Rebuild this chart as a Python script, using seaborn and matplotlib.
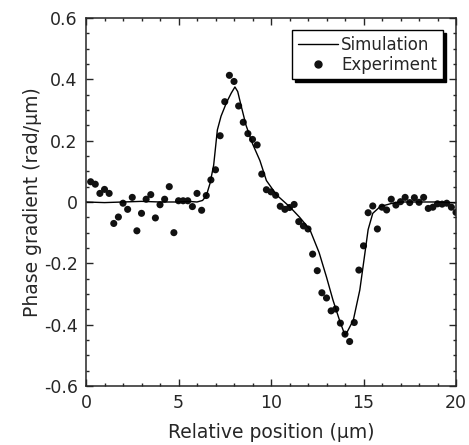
import numpy as np
import pandas as pd
import matplotlib
matplotlib.use('Agg')
import matplotlib.pyplot as plt
from matplotlib.lines import Line2D
from matplotlib.ticker import MultipleLocator
import seaborn as sns

# experiment: measured phase gradient every 0.25 um
exp_x = [0.25 * k for k in range(1, 81)]
exp_y = [0.066, 0.058, 0.028, 0.041, 0.028, -0.070, -0.049, -0.004, -0.024, 0.015,
         -0.094, -0.037, 0.009, 0.024, -0.052, -0.009, 0.009, 0.050, -0.100, 0.004,
         0.004, 0.004, -0.015, 0.028, -0.027, 0.021, 0.072, 0.105, 0.216, 0.327,
         0.413, 0.393, 0.313, 0.260, 0.223, 0.204, 0.186, 0.091, 0.040, 0.033,
         0.022, -0.014, -0.024, -0.018, -0.008, -0.064, -0.078, -0.088, -0.170, -0.224,
         -0.296, -0.313, -0.355, -0.349, -0.395, -0.431, -0.455, -0.393, -0.222, -0.143,
         -0.035, -0.013, -0.088, -0.017, -0.026, 0.009, -0.010, 0.001, 0.015, -0.002,
         0.014, -0.001, 0.015, -0.021, -0.017, -0.006, -0.007, -0.004, -0.017, -0.034]

# simulation curve
sim_x = [0, 1, 2, 3, 4, 5, 5.5, 6.0, 6.3, 6.5, 6.7, 6.9, 7.1, 7.3, 7.6, 7.85, 8.05,
         8.2, 8.4, 8.65, 9.0, 9.4, 9.75, 10.3, 11.0, 11.55, 12.1, 12.6, 13.0, 13.35,
         13.7, 14.0, 14.15, 14.45, 14.8, 15.05, 15.25, 15.5, 15.9, 16.5, 17, 18, 19, 20]
sim_y = [0.0, -0.002, 0.0, 0.002, 0.0, 0.0, 0.002, 0.0, 0.005, 0.02, 0.06, 0.12, 0.235,
         0.28, 0.325, 0.355, 0.375, 0.36, 0.31, 0.25, 0.19, 0.135, 0.07, 0.023, -0.015,
         -0.05, -0.09, -0.165, -0.245, -0.32, -0.385, -0.435, -0.42, -0.385, -0.287,
         -0.178, -0.09, -0.037, -0.015, -0.005, 0.0, 0.0, 0.0, -0.003]

x_ticks = [0, 5, 10, 15, 20]
y_ticks = [-0.6, -0.4, -0.2, 0, 0.2, 0.4, 0.6]
y_ticklabels = ['-0.6', '-0.4', '-0.2', '0', '0.2', '0.4', '0.6']

df_exp = pd.DataFrame({'x': exp_x, 'y': exp_y})
df_sim = pd.DataFrame({'x': sim_x, 'y': sim_y})

sns.set_style('ticks')
plt.rcParams['font.family'] = ['DejaVu Sans']

fig = plt.figure(figsize=(4.69, 4.45), dpi=100)
ax = fig.add_axes([0.1834, 0.1326, 0.7889, 0.8270])

sns.lineplot(data=df_sim, x='x', y='y', color='black', linewidth=1.0, ax=ax)
sns.scatterplot(data=df_exp, x='x', y='y', color='#111111', s=26, edgecolor='none', ax=ax)

ax.set_xticks(x_ticks)
ax.set_xticklabels([str(t) for t in x_ticks])
ax.set_yticks(y_ticks)
ax.set_yticklabels(y_ticklabels)
ax.xaxis.set_minor_locator(MultipleLocator(1))
ax.yaxis.set_minor_locator(MultipleLocator(0.05))
ax.set_xlim(0, 20)
ax.set_ylim(-0.6, 0.6)

ax.tick_params(which='both', direction='in', top=True, right=True, width=1.0)
ax.tick_params(which='major', length=5, labelsize=12.5, pad=6)
ax.tick_params(which='minor', length=2.5)
for s in ax.spines.values():
    s.set_linewidth(1.1)
    s.set_visible(True)

ax.set_xlabel('Relative position (\u03bcm)', fontsize=13.5)
ax.set_ylabel('Phase gradient (rad/\u03bcm)', fontsize=13.5)
ax.xaxis.set_label_coords(0.5, -0.1)
ax.yaxis.set_label_coords(-0.12, 0.5)

handles = [Line2D([], [], color='black', linewidth=1.0),
           Line2D([], [], color='#111111', marker='o', linestyle='none', markersize=5)]
leg = ax.legend(handles, ['Simulation', 'Experiment'], loc='upper right',
                bbox_to_anchor=(0.965, 0.967), borderaxespad=0, fontsize=12,
                frameon=True, fancybox=False, handlelength=2.4, handletextpad=0.2,
                labelspacing=0.1, borderpad=0.35,
                shadow={'color': 'black', 'alpha': 1.0})
leg.get_frame().set_edgecolor('black')
leg.get_frame().set_linewidth(1.0)
leg.get_frame().set_alpha(1)

fig.savefig('out.png', dpi=100)
